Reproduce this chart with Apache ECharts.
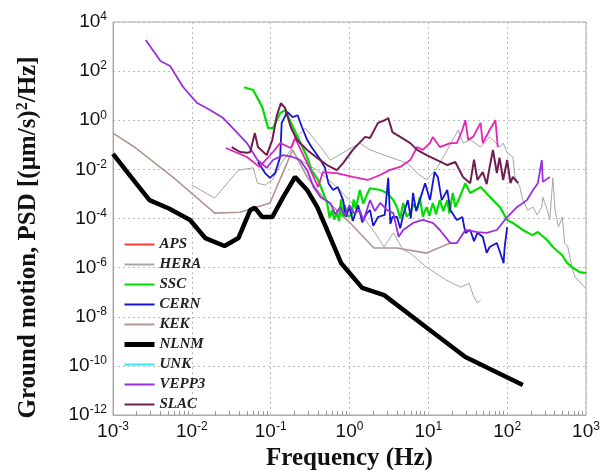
<!DOCTYPE html>
<html>
<head>
<meta charset="utf-8">
<script src="https://cdn.jsdelivr.net/npm/echarts@6/dist/echarts.min.js"></script>
<style>
  html, body { margin: 0; padding: 0; background: #fff; }
  #chart { width: 606px; height: 470px; }
</style>
</head>
<body>
<div id="chart"></div>
<script>
// [frequency Hz, PSD (um/s)^2/Hz]
const nlnm = [[1e-3,4.3e-2],[1.55e-3,7.1e-3],[2.9e-3,5.6e-4],[5.2e-3,2.5e-4],[9.5e-3,8.7e-5],[1.48e-2,1.6e-5],
  [2.6e-2,7.6e-6],[3.9e-2,1.6e-5],[5.5e-2,2.2e-4],[6.3e-2,2.7e-4],[7.8e-2,1.15e-4],[0.105,1.15e-4],[0.144,7.4e-4],
  [0.204,4.9e-3],[0.29,1.45e-3],[0.39,2.9e-4],[0.52,3.4e-5],[0.78,1.55e-6],[1.45,1.5e-7],[2.75,7.6e-8],
  [9.3,3.8e-9],[29.5,2.3e-10],[158,1.66e-11]];

const kek = [[1e-3,0.30],[1.95e-3,7.4e-2],[5.9e-3,4.5e-3],[1.95e-2,1.66e-4],[4.1e-2,1.8e-4],[9.8e-2,4.3e-4],
  [0.19,6.2e-2],[0.29,4.9e-3],[0.46,7.4e-4],[1.02,6.6e-5],[2.04,6.3e-6],[4.0,6.3e-6],[9.5,3.9e-6],[19,1.0e-5]];

const ssc = [[4.6e-2,22],[6.0e-2,17],[7.8e-2,3.5],[9.3e-2,0.48],[0.107,0.48],[0.132,1.95],[0.152,2.6],
  [0.29,3.2e-2],[0.33,9.3e-3],[0.40,3.7e-3],[0.52,4.3e-4],[0.56,1.1e-4],[0.60,2.2e-4],[0.64,9e-5],[0.69,1.66e-4],
  [0.74,8e-5],[0.78,6e-4],[0.82,1.2e-4],[0.87,3.5e-4],[0.95,1.2e-4],[1.07,1.4e-4],[1.13,6e-4],[1.2,2.5e-4],
  [1.35,1.45e-3],[1.5,4e-4],[1.7,1.1e-3],[1.82,1.7e-3],[2.45,1.45e-3],[3.0,1.1e-3],[3.6,5.6e-4],[4.0,2.9e-4],
  [4.4,1.0e-4],[4.8,4.3e-4],[5.3,1.2e-4],[5.9,1.66e-4],[6.5,4e-4],[7.2,2.2e-4],[7.8,7.4e-4],[8.5,1.2e-4],
  [9.5,2.9e-4],[10.3,1.3e-4],[11.4,4.3e-4],[12.5,1.5e-4],[14,5.6e-4],[15.5,2e-4],[17.4,5.6e-4],[18.5,1.6e-4],
  [20.4,1.1e-3],[22,3e-4],[25,7.4e-4],[29.5,2.75e-3],[34,1.1e-3],[46,1.9e-3],[61,7.4e-4],
  [81,2.9e-4],[100,8.7e-5],[118,6.6e-5],[158,3.4e-5],[209,2.1e-5],[245,2.8e-5],[323,1.3e-5],[380,6.9e-6],
  [500,3.2e-6],[575,1.55e-6],[690,9.5e-7],[830,6.6e-7],[1000,6.0e-7]];

const cern = [[6.9e-2,2.0e-2],[8.5e-2,7.1e-3],[9.8e-2,4.5e-3],[0.114,7.1e-3],[0.132,3.2e-2],[0.138,0.78],
  [0.162,2.2],[0.19,1.35],[0.22,1.6],[0.25,0.52],[0.29,0.16],[0.33,8.1e-2],[0.43,2.4e-2],[0.49,1.15e-2],
  [0.54,2.75e-3],[0.62,1.45e-3],[0.71,1.9e-3],[0.83,5.6e-4],[0.9,1.2e-4],[1.0,2.9e-4],[1.1,8e-5],[1.29,3.5e-4],
  [1.45,7e-5],[1.66,1.66e-4],[1.82,2.2e-4],[2.0,5e-5],[2.3,1.15e-4],[2.8,1.4e-4],[3.1,4.5e-3],[3.3,6e-5],[3.5,1.15e-4],
  [4.0,1.15e-4],[4.4,4e-5],[4.8,1.4e-4],[5.5,5.6e-4],[6.0,1.0e-4],[6.4,1.1e-3],[7.0,2e-4],[7.8,5.6e-4],[9.1,2.75e-3],
  [10.5,5.6e-4],[12,7.8e-3],[13.2,4.9e-3],[14.8,5.6e-4],[17.4,1.45e-3],[19,2.2e-4],[23,8.7e-5],[27,1.15e-4],
  [29.5,2.6e-5],[34,3.4e-5],[38,1.2e-5],[42,2.6e-5],[49,1.8e-5],[55,4e-6],[60,6.9e-6],[74,1.0e-5],[85,2.7e-6],
  [90,1.5e-6],[93,6.9e-6],[100,4.5e-5]];

const vepp3 = [[2.6e-3,1860],[4.0e-3,257],[5.3e-3,162],[7.8e-3,22],[1.17e-2,5.0],[1.7e-2,2.6],[2.5e-2,1.23],
  [3.7e-2,0.33],[5.0e-2,0.117],[6.8e-2,2.4e-2],[8.9e-2,1.15e-2],[0.107,2.4e-2],[0.144,3.8e-2],[0.19,3.2e-2],
  [0.235,2.4e-2],[0.29,9.3e-3],[0.35,1.9e-3],[0.43,7.4e-4],[0.57,4.3e-4],[0.66,1.5e-4],[0.76,2.9e-4],[0.88,1.3e-4],
  [1.0,3.5e-4],[1.15,1.6e-4],[1.35,2.2e-4],[1.5,8e-5],[1.82,5.6e-4],[2.1,2.0e-4],[2.45,4.3e-4],[3.0,2.2e-4],[3.6,1.66e-4],
  [4.2,1.8e-5],[4.8,3.4e-5],[6.4,6.6e-5],[8.5,8.7e-5],[11.4,6.6e-5],[14,3.4e-5],[19,1.0e-5],[23,1.0e-5],
  [29.5,3.4e-5],[42,2.8e-5],[55,2.6e-5],[74,3.4e-5],[100,1.15e-4],[133,2.9e-4],[178,5.6e-4],[213,1.45e-3],
  [245,2.75e-3],[275,2.4e-2],[283,3.1e-3],[347,4.9e-3]];

const slac = [[3.2e-2,8.1e-2],[4.1e-2,5.1e-2],[5.0e-2,4.7e-2],[5.5e-2,5.1e-2],[6.3e-2,0.30],[6.9e-2,8.1e-2],
  [8.9e-2,3.8e-2],[0.105,0.16],[0.12,1.6],[0.135,5.0],[0.152,3.2],[0.18,0.52],[0.215,0.16],[0.29,6.2e-2],
  [0.39,2.9e-2],[0.52,1.5e-2],[0.69,9.3e-3],[0.83,1.8e-2],[1.1,6.2e-2],[1.58,0.21],[1.82,0.19],[2.3,0.78],
  [2.8,1.0],[3.1,1.23],[3.5,0.33],[4.4,0.21],[5.9,0.117],[7.2,6.2e-2],[9.5,3.8e-2],[12.9,2.4e-2],[17.4,1.5e-2],
  [22,2.0e-2],[27.5,4.9e-3],[34,2.75e-3],[38,2.5e-2],[42,3.7e-3],[49,7.8e-3],[55,2.5e-3],[60,1.26e-2],[66,6.2e-2],
  [74,7.1e-3],[80,3e-2],[89,3.7e-3],[100,2.4e-2],[110,2.75e-3],[118,4.9e-3],[138,2.75e-3]];

const other = [[2.7e-2,7.4e-2],[5.0e-2,3.2e-2],[7.2e-2,1.26e-2],[0.107,5.1e-2],[0.132,0.117],[0.18,7.4e-2],
  [0.204,0.19],[0.235,7.4e-2],[0.32,9.3e-3],[0.40,1.9e-3],[0.46,7.8e-3],[0.69,7.1e-3],[1.1,4.9e-3],[1.7,3.7e-3],
  [2.45,5.9e-3],[3.2,9.3e-3],[4.4,1.26e-2],[5.9,2.4e-2],[7.2,8.1e-2],[8.5,6.2e-2],[10.5,0.117],[11.4,0.21],
  [14,8.1e-2],[19,0.117],[23,0.117],[27,0.40],[29.5,1.0],[32,0.16],[37,0.21],[46,0.78],[49,0.117],[60,0.40],
  [71,1.0],[76,8.1e-2]];

const hera = [[1.0e-2,2.3e-3],[1.95e-2,6.8e-4],[3.9e-2,9.3e-3],[6.0e-2,1.15e-2],[6.8e-2,2.75e-3],[8.5e-2,2.3e-3],
  [0.105,3.7e-3],[0.132,1.5e-2],[0.18,6.2e-2],[0.215,0.21],[0.275,0.48],[0.43,8.1e-2],[0.57,2.4e-2],[1.35,0.117],
  [1.82,6.2e-2],[3.2,3.2e-2],[5.4,1.8e-2],[7.2,7.1e-3],[9.5,3.7e-3],[12.9,1.15e-2],[17.4,6.2e-2],[24,0.40],
  [27.5,0.117],[34,0.16],[46,8.1e-2],[60,0.21],[81,8.1e-2],[89,0.117],[100,4.7e-2],[118,3.2e-2],[126,4.9e-3],
  [145,1.9e-3],[158,5.6e-4],[182,2.2e-4],[213,2.9e-4],[240,1.4e-4],[275,2.9e-4],[283,7.4e-4],[323,2.2e-4],
  [347,8.7e-5],[380,4.5e-3],[405,2.2e-4],[447,4.5e-5],[500,1.15e-4],[537,1.0e-5],[589,6.9e-6],[661,1.05e-6],
  [724,4.2e-7],[832,2.6e-7],[977,1.5e-7]];

const heraLow = [[0.18,6.2e-2],[0.235,2.4e-2],[0.39,9.3e-3],[0.69,1.9e-3],[1.0,5.6e-4],[1.5,1.15e-4],[2.1,2.6e-5],
  [2.75,6.9e-6],[3.6,2.6e-5],[4.8,5.2e-6],[5.9,3.9e-6],[9.5,1.05e-6],[16.6,3.2e-7],[25.7,1.6e-7],[33,2.3e-7],
  [37,7.6e-8],[42,3.6e-8],[46,4.8e-8]];

const legendNames = ['APS', 'HERA', 'SSC', 'CERN', 'KEK', 'NLNM', 'UNK', 'VEPP3', 'SLAC'];
const yTicks = [1e-12, 1e-10, 1e-8, 1e-6, 1e-4, 1e-2, 1, 1e2, 1e4];
const xTicks = [1e-3, 1e-2, 1e-1, 1, 1e1, 1e2, 1e3];
const minorTicks = [];
for (let e = -3; e < 3; e++) {
  for (let k = 2; k <= 9; k++) minorTicks.push(k * Math.pow(10, e));
}

function expLabel(v) {
  const e = Math.round(Math.log10(v));
  return '{b|10}{e|' + e + '}';
}

const labelRich = {
  b: { fontSize: 19, fontFamily: 'Liberation Sans', color: '#111' },
  e: { fontSize: 12, fontFamily: 'Liberation Sans', color: '#111', verticalAlign: 'top', padding: [0, 0, 10, 0] }
};

function line(name, data, color, width) {
  return {
    name: name, type: 'line', data: data, showSymbol: false, symbol: 'none',
    lineStyle: { color: color, width: width }, itemStyle: { color: color },
    animation: false
  };
}

const chart = echarts.init(document.getElementById('chart'));
chart.setOption({
  backgroundColor: '#fff',
  grid: {
    left: 113, right: 20, top: 22, bottom: 55, outerBoundsMode: 'none',
    show: true, borderColor: '#aaa', borderWidth: 1
  },
  legend: {
    data: legendNames.map(function (n) {
      return n === 'NLNM' ? { name: n, lineStyle: { width: 5 } } : { name: n };
    }),
    orient: 'vertical', left: 117, top: 232,
    itemWidth: 30, itemHeight: 14, itemGap: 5,
    itemStyle: { opacity: 0 },
    textStyle: { fontFamily: 'Liberation Serif', fontStyle: 'italic', fontWeight: 'bold', fontSize: 15, color: '#222' }
  },
  xAxis: [{
    type: 'log', min: 1e-3, max: 1e3,
    name: 'Frequency (Hz)', nameLocation: 'middle', nameGap: 30,
    nameTextStyle: { fontFamily: 'Liberation Serif', fontWeight: 'bold', fontSize: 25, color: '#111' },
    axisLine: { lineStyle: { color: '#aaa' } },
    axisTick: { show: false, customValues: xTicks },
    axisLabel: { formatter: expLabel, rich: labelRich, margin: 6, customValues: xTicks },
    splitLine: { show: true, lineStyle: { color: '#bbb', type: [2, 3] } }
  }, {
    type: 'log', min: 1e-3, max: 1e3, position: 'bottom',
    axisLine: { show: false }, axisLabel: { show: false }, splitLine: { show: false },
    axisTick: { show: true, inside: true, length: 4, customValues: minorTicks, lineStyle: { color: '#999' } }
  }],
  yAxis: {
    type: 'log', min: 1e-12, max: 1e4,
    name: '{t|Ground motion, PSD [(μm/s)}{s|2}{t|/Hz]}', nameLocation: 'middle', nameGap: 70,
    nameTextStyle: {
      padding: [0, 38, 0, 0],
      rich: {
        t: { fontFamily: 'Liberation Serif', fontWeight: 'bold', fontSize: 25, color: '#111' },
        s: { fontFamily: 'Liberation Serif', fontWeight: 'bold', fontSize: 16, color: '#111', verticalAlign: 'top', padding: [0, 0, 12, 0] }
      }
    },
    axisLine: { lineStyle: { color: '#aaa' } },
    axisTick: { show: false, customValues: yTicks },
    axisLabel: { formatter: expLabel, rich: labelRich, margin: 6, customValues: yTicks },
    splitLine: { show: true, lineStyle: { color: '#bbb', type: [2, 3] } }
  },
  series: [
    line('APS', [], '#ff3a3a', 2),
    line('KEK', kek, '#b39590', 1.6),
    line('HERA', hera, '#a6a6a6', 1),
    line('HERA', heraLow, '#a6a6a6', 1),
    line('NLNM', nlnm, '#000', 4.5),
    line('SSC', ssc, '#00dd00', 2.2),
    line('CERN', cern, '#1515d0', 1.8),
    line('UNK', [], '#33e6f0', 2),
    line('VEPP3', vepp3, '#9a2fe0', 1.8),
    line('other', other, '#e424b8', 1.8),
    line('SLAC', slac, '#6e1e50', 2)
  ]
});
</script>
</body>
</html>
